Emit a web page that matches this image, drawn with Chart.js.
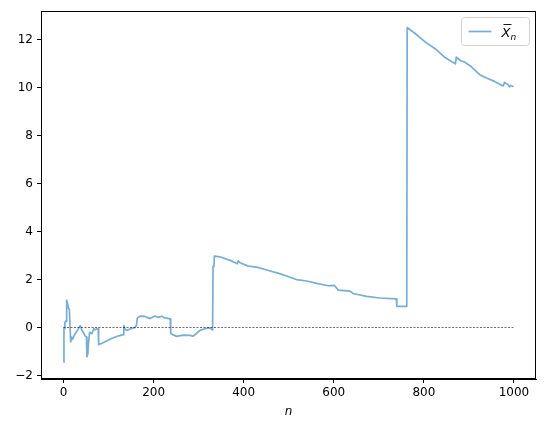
<!DOCTYPE html>
<html>
<head>
<meta charset="utf-8">
<script src="https://cdn.jsdelivr.net/npm/chart.js@4"></script>
<style>
html,body{margin:0;padding:0;background:#fff;}
#wrap{width:546px;height:432px;position:relative;}
</style>
</head>
<body>
<div id="wrap"><canvas id="c" width="546" height="432"></canvas></div>
<script>
const seriesLabel = "X̄n";
const nValues = [0,1,2,3,5,6,7,9,11,13,16,18,20,24,30,37,41,44,48,51,52,54,55,58,63,67,70,74,77,78,90,104,115,126,133,134,136,140,150,159,162,164,170,181,192,203,210,214,218,225,237,238,245,251,266,281,288,295,303,314,325,329,331,332,334,335,347,370,386,388,392,410,429,451,480,500,517,540,562,588,600,603,610,636,643,673,702,739,740,762,763,780,802,828,846,868,870,872,883,890,905,924,939,957,976,979,987,990,993,999];
const meanValues = [-1.45,0.0,-0.05,0.2,0.28,0.25,1.13,1.0,0.8,0.75,-0.6,-0.4,-0.5,-0.32,-0.15,0.08,-0.12,-0.2,-0.35,-0.4,-1.22,-1.1,-0.75,-0.2,-0.26,-0.05,-0.1,-0.05,-0.05,-0.72,-0.62,-0.48,-0.4,-0.33,-0.3,0.08,-0.05,-0.12,-0.05,0.0,0.1,0.4,0.47,0.46,0.37,0.48,0.42,0.44,0.47,0.4,0.36,-0.25,-0.32,-0.37,-0.32,-0.33,-0.36,-0.25,-0.12,-0.05,-0.02,-0.08,-0.1,2.55,2.6,2.98,2.95,2.8,2.66,2.78,2.7,2.56,2.52,2.4,2.25,2.12,2.0,1.94,1.84,1.74,1.76,1.72,1.56,1.52,1.42,1.3,1.23,1.19,0.88,0.88,12.52,12.28,11.93,11.59,11.28,11.03,11.0,11.28,11.12,11.08,10.89,10.55,10.41,10.27,10.08,10.23,10.13,10.04,10.1,10.05];
const refLineN = [0, 999];
const refLineY = [0, 0];
const xTicks = [0,200,400,600,800,1000];
const yTicks = [-2,0,2,4,6,8,10,12];

const lineColor = 'rgba(31,119,180,0.6)';
const FONT = '"DejaVu Sans", sans-serif';

const framePlugin = {
  id: 'frame',
  afterDraw(chart) {
    const {ctx, chartArea: a} = chart;
    ctx.save();
    ctx.strokeStyle = '#000';
    ctx.lineWidth = 1;
    ctx.strokeRect(Math.round(a.left) + 0.5, Math.round(a.top) + 0.5, Math.round(a.right - a.left) - 1, Math.round(a.bottom - a.top) - 1);
    // legend box
    const bx = 461.5, by = 17.5, bw = 68, bh = 28;
    ctx.fillStyle = 'rgba(255,255,255,0.8)';
    ctx.strokeStyle = '#d0d0d0';
    ctx.beginPath();
    if (ctx.roundRect) ctx.roundRect(bx, by, bw, bh, 3); else ctx.rect(bx, by, bw, bh);
    ctx.fill(); ctx.stroke();
    ctx.strokeStyle = lineColor;
    ctx.lineWidth = 1.7;
    ctx.beginPath();
    ctx.moveTo(bx + 7, by + 14); ctx.lineTo(bx + 30, by + 14);
    ctx.stroke();
    ctx.fillStyle = '#000';
    ctx.font = 'italic 13px ' + FONT;
    ctx.textBaseline = 'alphabetic';
    const lx = bx + 40, ly = by + 19;
    ctx.fillText(seriesLabel.charAt(0), lx, ly);
    ctx.font = 'italic 9px ' + FONT;
    ctx.fillText(seriesLabel.charAt(seriesLabel.length - 1), lx + 9, ly + 3);
    ctx.strokeStyle = '#000';
    ctx.lineWidth = 0.9;
    ctx.beginPath();
    ctx.moveTo(lx + 2, ly - 12); ctx.lineTo(lx + 10, ly - 12);
    ctx.stroke();
    ctx.restore();
  }
};

new Chart(document.getElementById('c'), {
  type: 'line',
  data: {
    datasets: [
      {
        label: seriesLabel,
        data: nValues.map((n, i) => ({x: n, y: meanValues[i]})),
        borderColor: lineColor,
        borderWidth: 1.7,
        borderJoinStyle: 'round',
        pointRadius: 0,
        fill: false,
        tension: 0,
        order: 1
      },
      {
        label: 'zero',
        data: refLineN.map((n, i) => ({x: n, y: refLineY[i]})),
        borderColor: '#000',
        borderWidth: 0.6,
        borderDash: [2, 1.5],
        pointRadius: 0,
        fill: false,
        order: 0
      }
    ]
  },
  options: {
    responsive: false,
    animation: false,
    layout: {padding: {left: 0, right: 10, top: 10, bottom: 13}},
    plugins: {legend: {display: false}, tooltip: {enabled: false}},
    scales: {
      x: {
        type: 'linear',
        min: -49.95, max: 1048.95,
        afterBuildTicks(s) { s.ticks = xTicks.map(v => ({value: v})); },
        afterFit(s) { s.height = 40; },
        grid: {display: true, drawOnChartArea: false, drawTicks: true, tickLength: 4, color: '#000'},
        border: {display: true, color: '#000', width: 1},
        ticks: {color: '#000', font: {family: FONT, size: 12}, padding: 3, maxRotation: 0, callback: v => String(v)},
        title: {display: true, text: 'n', color: '#000', font: {family: FONT, size: 12, style: 'italic'}, padding: {top: 0, bottom: 0}}
      },
      y: {
        type: 'linear',
        min: -2.15, max: 13.2,
        afterBuildTicks(s) { s.ticks = yTicks.map(v => ({value: v})); },
        afterFit(s) { s.width = 41; },
        grid: {display: true, drawOnChartArea: false, drawTicks: true, tickLength: 4, color: '#000'},
        border: {display: true, color: '#000', width: 1},
        ticks: {color: '#000', font: {family: FONT, size: 12}, padding: 4, callback: v => (v < 0 ? '\u2212' + Math.abs(v) : String(v))}
      }
    }
  },
  plugins: [framePlugin]
});
</script>
</body>
</html>
